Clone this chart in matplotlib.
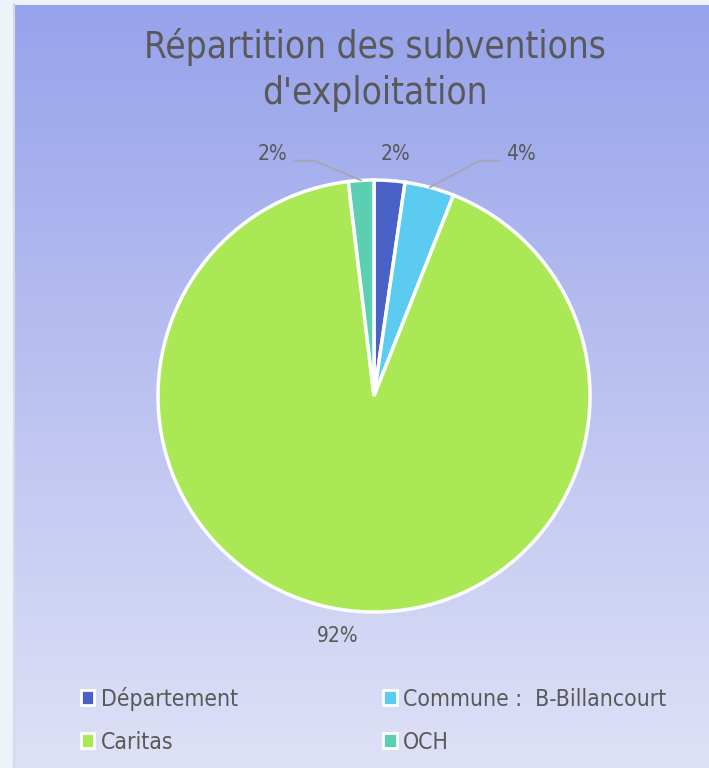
import numpy as np
import matplotlib.pyplot as plt
from matplotlib.patches import Patch

plt.rcParams['font.family'] = 'DejaVu Sans'
plt.rcParams['font.stretch'] = 'condensed'

# data
labels = ['Département', 'Commune :  B-Billancourt', 'Caritas', 'OCH']
values = [2.3, 3.7, 92.1, 1.9]
colors = ['#4a62c8', '#5bcbf0', '#abe856', '#5ccfb3']
# label positions (in pie radius units) and whether a leader line is drawn
label_xy = [(0.10, 1.12), (0.61, 1.12), (-0.17, -1.11), (-0.40, 1.12)]
leader = [False, True, False, True]

txt = '#595959'
W, H = 709, 768
fig = plt.figure(figsize=(W / 100, H / 100), dpi=100, facecolor='#eef3fa')

# gradient background
bg = fig.add_axes([15 / W, 0, 1 - 15 / W, 1 - 5 / H])
grad = np.linspace(0, 1, 256)[:, None]
top = np.array([0x97, 0xa3, 0xeb]) / 255
bot = np.array([0xdf, 0xe1, 0xf6]) / 255
img = top[None, None, :] * (1 - grad[:, :, None]) + bot[None, None, :] * grad[:, :, None]
bg.imshow(img, aspect='auto', extent=[0, 1, 0, 1])
bg.set_axis_off()
fig.add_artist(plt.Line2D([14 / W, 14 / W], [0, 1 - 4 / H], color='#d6dae4', lw=1.5))

fig.text(375 / W, 1 - 70 / H, "Répartition des subventions\nd'exploitation",
         ha='center', va='center', fontsize=26.5, color=txt, linespacing=1.3)

# pie
cx, cy, R = 374, 396, 216
L = 250 / R
ax = fig.add_axes([(cx - 250) / W, (H - cy - 250) / H, 500 / W, 500 / H])
wedges, _ = ax.pie(values, colors=colors, startangle=90, counterclock=False,
                   radius=1, wedgeprops=dict(edgecolor='white', linewidth=2.5))
ax.set_xlim(-L, L)
ax.set_ylim(-L, L)
ax.set_aspect('equal')
ax.set_axis_off()

for w, v, (lx, ly), ld in zip(wedges, values, label_xy, leader):
    th = np.deg2rad((w.theta1 + w.theta2) / 2)
    ex, ey = np.cos(th), np.sin(th)
    if ld:
        side = np.sign(lx)
        elbow_x = lx - side * 0.12
        end_x = lx - side * 0.03
        ax.plot([ex, elbow_x, end_x], [ey, ly - 0.03, ly - 0.03], color='#a6a6a6', lw=1.2,
                clip_on=False)
        ax.text(lx, ly, f'{v:.0f}%', ha='left' if side > 0 else 'right', va='center',
                fontsize=15, color=txt)
    else:
        ax.text(lx, ly, f'{v:.0f}%', ha='center', va='center', fontsize=15, color=txt)

# legend, filled row by row
handles = [Patch(facecolor=c, edgecolor='white', linewidth=2) for c in colors]
order = [0, 2, 1, 3]
fig.legend([handles[i] for i in order], [labels[i] for i in order], ncol=2,
           loc='upper left', bbox_to_anchor=(60 / W, 1 - 666 / H), frameon=False,
           fontsize=16.5, labelcolor=txt, handlelength=0.6, handleheight=0.6,
           handletextpad=0.3, columnspacing=6.3, labelspacing=0.88)

fig.savefig('out.png', dpi=100, facecolor=fig.get_facecolor())
